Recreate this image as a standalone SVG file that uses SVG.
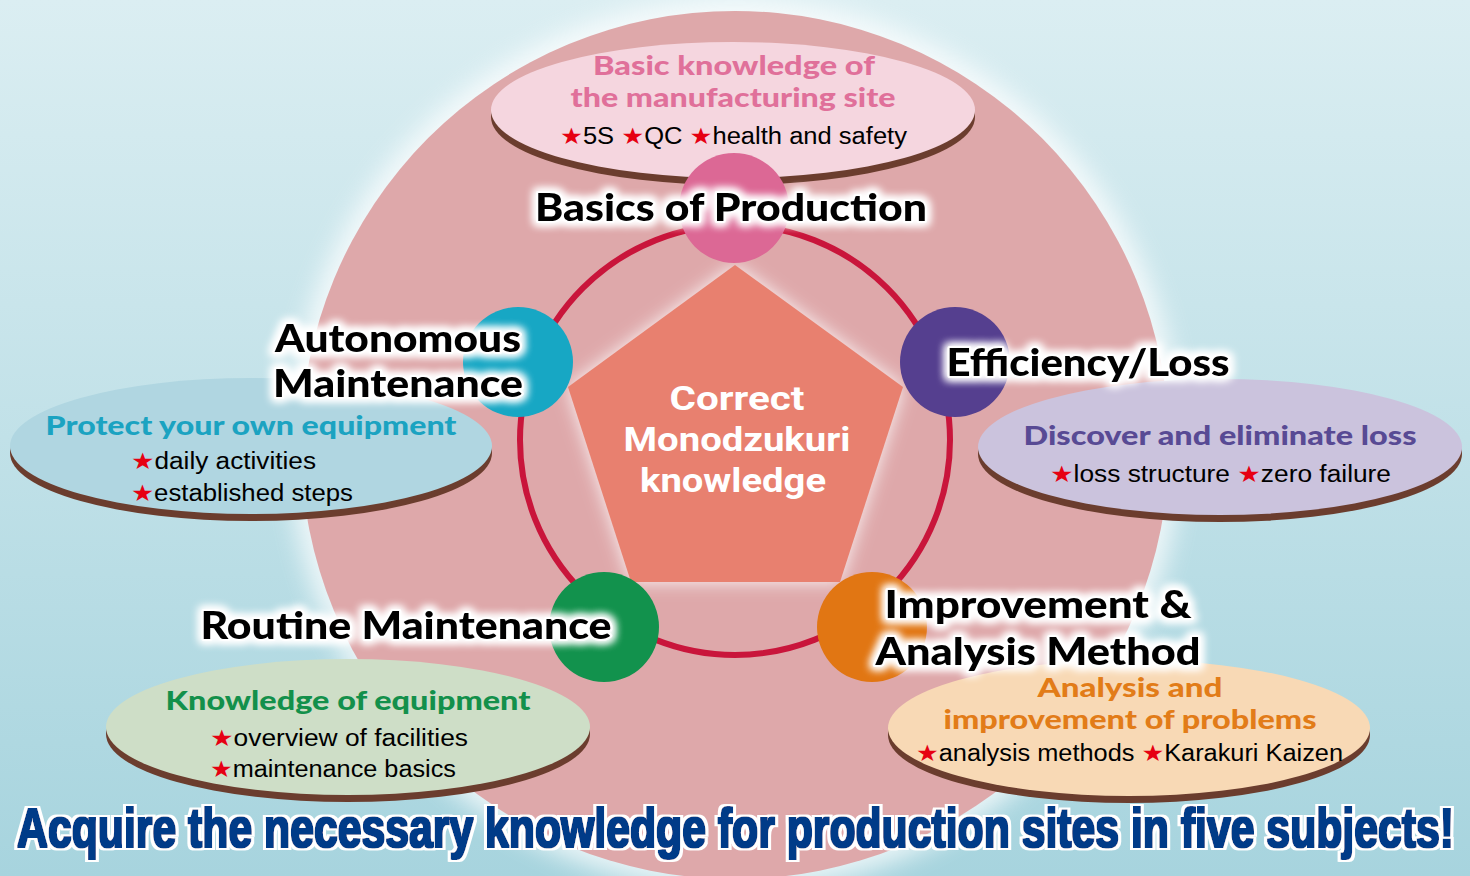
<svg xmlns="http://www.w3.org/2000/svg" width="1470" height="876" viewBox="0 0 1470 876">
<defs>
<linearGradient id="bg" x1="0" y1="0" x2="0" y2="1">
<stop offset="0" stop-color="#dbeef2"/>
<stop offset="1" stop-color="#a7d4de"/>
</linearGradient>
<filter id="blur16" x="-20%" y="-20%" width="140%" height="140%"><feGaussianBlur stdDeviation="12"/></filter>
<filter id="blur8" x="-20%" y="-20%" width="140%" height="140%"><feGaussianBlur stdDeviation="9"/></filter>
<filter id="glow" x="-10%" y="-40%" width="120%" height="180%">
<feMorphology in="SourceAlpha" operator="dilate" radius="2" result="d"/>
<feGaussianBlur in="d" stdDeviation="4" result="b"/>
<feFlood flood-color="#ffffff"/>
<feComposite in2="b" operator="in" result="g"/>
<feMerge><feMergeNode in="g"/><feMergeNode in="g"/><feMergeNode in="SourceGraphic"/></feMerge>
</filter>
<filter id="heavy" x="-2%" y="-30%" width="104%" height="160%">
<feMorphology in="SourceGraphic" operator="dilate" radius="1.4 0.6" result="thick"/>
<feMorphology in="thick" operator="dilate" radius="2.6 2" result="outl"/>
<feFlood flood-color="#ffffff"/>
<feComposite in2="outl" operator="in" result="white"/>
<feMerge><feMergeNode in="white"/><feMergeNode in="thick"/></feMerge>
</filter>
<style>
.title{font-family:Lato,"Open Sans","Liberation Sans",sans-serif;font-weight:900;font-size:37px;fill:#000;stroke:#fff;stroke-width:4;paint-order:stroke;stroke-linejoin:round;text-anchor:middle}
.sub{font-family:Lato,"Open Sans","Liberation Sans",sans-serif;font-weight:900;font-size:26px;text-anchor:middle}
.item{font-family:"Liberation Sans","Noto Sans",sans-serif;font-size:23px;fill:#000}
.star{fill:#e60012;font-family:"DejaVu Sans",sans-serif}
.center{font-family:Roboto,"Liberation Sans",sans-serif;font-weight:700;font-size:34px;fill:#fff;text-anchor:middle}
.shadow{fill:#6b3d2e}
.node{stroke:none}
.ring{fill:none;stroke:#c9153b;stroke-width:6}
.headline{font-family:"Liberation Sans",Arial,sans-serif;font-weight:700;font-size:55px;fill:#003a88}
</style>
</defs>
<rect width="1470" height="876" fill="url(#bg)"/>
<circle cx="735" cy="445" r="446" fill="#ffffff" opacity="0.75" filter="url(#blur16)"/>
<circle cx="735" cy="445" r="434" fill="#dea8aa"/>

<g id="connectors">
<circle class="ring" cx="735" cy="440" r="215"/>
</g>

<g id="node-center">
<polygon points="735,265 903,387 840,582 631,582 568,387" fill="#ffffff" opacity="0.9" filter="url(#blur8)"/>
<polygon points="735,265 903,387 840,582 631,582 568,387" fill="#e8806f"/>
<text class="center" x="737" y="410" textLength="135" lengthAdjust="spacingAndGlyphs">Correct</text>
<text class="center" x="737" y="451" textLength="227" lengthAdjust="spacingAndGlyphs">Monodzukuri</text>
<text class="center" x="733" y="492" textLength="186" lengthAdjust="spacingAndGlyphs">knowledge</text>
</g>

<g id="node-basics">
<ellipse class="shadow" cx="733" cy="117" rx="242" ry="68"/>
<ellipse cx="733" cy="110" rx="242" ry="68" fill="#f5d6df"/>
<text class="sub" x="734" y="75" fill="#e0709a" textLength="282" lengthAdjust="spacingAndGlyphs">Basic knowledge of</text>
<text class="sub" x="733" y="107" fill="#e0709a" textLength="325" lengthAdjust="spacingAndGlyphs">the manufacturing site</text>
<text class="item" x="560" y="144" textLength="347" lengthAdjust="spacingAndGlyphs"><tspan class="star">★</tspan>5S <tspan class="star">★</tspan>QC <tspan class="star">★</tspan>health and safety</text>
<circle class="node" cx="734" cy="208" r="55" fill="#dc6895"/>
<text class="title" x="731" y="221" filter="url(#glow)" textLength="392" lengthAdjust="spacingAndGlyphs">Basics of Production</text>
</g>

<g id="node-autonomous">
<ellipse class="shadow" cx="251" cy="453" rx="241" ry="68"/>
<ellipse cx="251" cy="446" rx="241" ry="68" fill="#b0d6e1"/>
<text class="sub" x="251" y="435" fill="#1ba3c1" textLength="411" lengthAdjust="spacingAndGlyphs">Protect your own equipment</text>
<text class="item" x="131" y="469" textLength="185" lengthAdjust="spacingAndGlyphs"><tspan class="star">★</tspan>daily activities</text>
<text class="item" x="131" y="501" textLength="222" lengthAdjust="spacingAndGlyphs"><tspan class="star">★</tspan>established steps</text>
<circle class="node" cx="518" cy="362" r="55" fill="#17a7c4"/>
<g filter="url(#glow)">
<text class="title" x="398" y="352" textLength="246" lengthAdjust="spacingAndGlyphs">Autonomous</text>
<text class="title" x="398" y="397" textLength="250" lengthAdjust="spacingAndGlyphs">Maintenance</text>
</g>
</g>

<g id="node-efficiency">
<ellipse class="shadow" cx="1220" cy="454" rx="242" ry="68"/>
<ellipse cx="1220" cy="447" rx="242" ry="68" fill="#cbc3dd"/>
<text class="sub" x="1220" y="445" fill="#584a94" textLength="393" lengthAdjust="spacingAndGlyphs">Discover and eliminate loss</text>
<text class="item" x="1050" y="482" textLength="341" lengthAdjust="spacingAndGlyphs"><tspan class="star">★</tspan>loss structure <tspan class="star">★</tspan>zero failure</text>
<circle class="node" cx="955" cy="362" r="55" fill="#553f8f"/>
<text class="title" x="1088" y="376" filter="url(#glow)" textLength="283" lengthAdjust="spacingAndGlyphs">Efficiency/Loss</text>
</g>

<g id="node-routine">
<ellipse class="shadow" cx="348" cy="734" rx="242" ry="68"/>
<ellipse cx="348" cy="727" rx="242" ry="68" fill="#cedec7"/>
<text class="sub" x="348" y="710" fill="#13904b" textLength="365" lengthAdjust="spacingAndGlyphs">Knowledge of equipment</text>
<text class="item" x="210" y="746" textLength="258" lengthAdjust="spacingAndGlyphs"><tspan class="star">★</tspan>overview of facilities</text>
<text class="item" x="210" y="777" textLength="246" lengthAdjust="spacingAndGlyphs"><tspan class="star">★</tspan>maintenance basics</text>
<circle class="node" cx="604" cy="627" r="55" fill="#12924d"/>
<text class="title" x="406" y="639" filter="url(#glow)" textLength="411" lengthAdjust="spacingAndGlyphs">Routine Maintenance</text>
</g>

<g id="node-improvement">
<ellipse class="shadow" cx="1129" cy="735" rx="241" ry="68"/>
<ellipse cx="1129" cy="728" rx="241" ry="68" fill="#f8d9b5"/>
<text class="sub" x="1130" y="697" fill="#e27c18" textLength="185" lengthAdjust="spacingAndGlyphs">Analysis and</text>
<text class="sub" x="1130" y="729" fill="#e27c18" textLength="373" lengthAdjust="spacingAndGlyphs">improvement of problems</text>
<text class="item" x="916" y="761" textLength="427" lengthAdjust="spacingAndGlyphs"><tspan class="star">★</tspan>analysis methods <tspan class="star">★</tspan>Karakuri Kaizen</text>
<circle class="node" cx="872" cy="627" r="55" fill="#e17613"/>
<g filter="url(#glow)">
<text class="title" x="1038" y="618" textLength="307" lengthAdjust="spacingAndGlyphs">Improvement &amp;</text>
<text class="title" x="1038" y="665" textLength="325" lengthAdjust="spacingAndGlyphs">Analysis Method</text>
</g>
</g>

<g filter="url(#heavy)">
<text class="headline" transform="scale(0.7776 1)" x="21.9" y="847" textLength="1848" lengthAdjust="spacingAndGlyphs">Acquire the necessary knowledge for production sites in five subjects!</text>
</g>
</svg>
